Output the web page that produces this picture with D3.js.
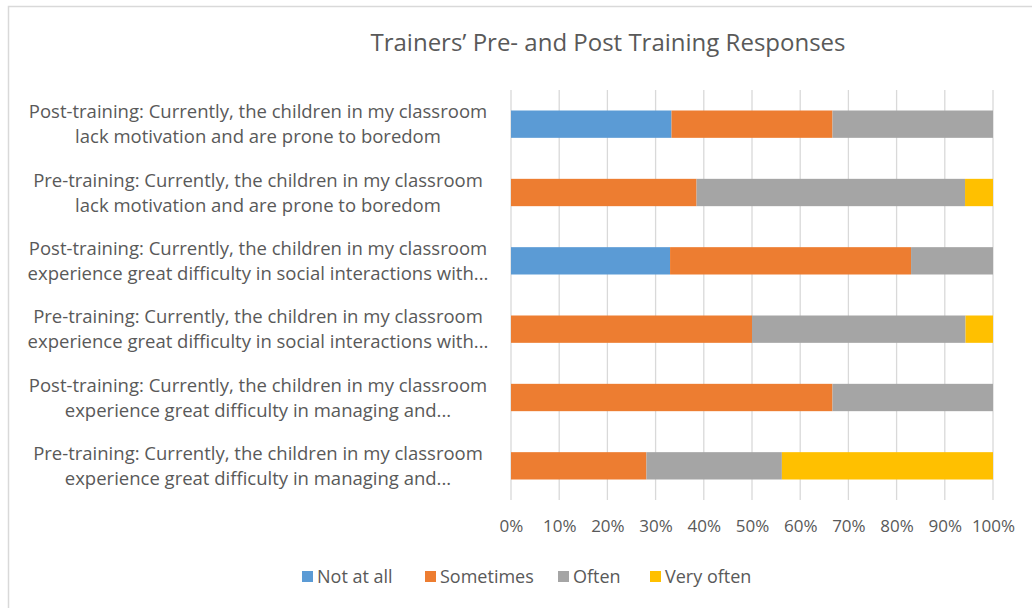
<!DOCTYPE html>
<html>
<head>
<meta charset="utf-8">
<script src="https://cdn.jsdelivr.net/npm/d3@7"></script>
<style>
  body { margin: 0; background: #fff; }
  svg { font-family: "Open Sans", sans-serif; }
</style>
</head>
<body>
<div class="chart"></div>
<script>
// categories, top to bottom, two label lines each
const categories = [
  ["Post-training: Currently, the children in my classroom", "lack motivation and are prone to boredom"],
  ["Pre-training: Currently, the children in my classroom", "lack motivation and are prone to boredom"],
  ["Post-training: Currently, the children in my classroom", "experience great difficulty in social interactions with..."],
  ["Pre-training: Currently, the children in my classroom", "experience great difficulty in social interactions with..."],
  ["Post-training: Currently, the children in my classroom", "experience great difficulty in managing and..."],
  ["Pre-training: Currently, the children in my classroom", "experience great difficulty in managing and..."]
];
const seriesNames = ["Not at all", "Sometimes", "Often", "Very often"];
const notAtAll  = [33.3, 0,    33.0, 0,    0,    0];
const sometimes = [33.4, 38.5, 50.0, 50.0, 66.7, 28.1];
const often     = [33.3, 55.7, 17.0, 44.3, 33.3, 28.1];
const veryOften = [0,    5.8,  0,    5.7,  0,    43.8];
const xTicks = [0, 10, 20, 30, 40, 50, 60, 70, 80, 90, 100];
const colors = ["#5b9bd5", "#ed7d31", "#a5a5a5", "#ffc000"];

const width = 1032, height = 608;

const svg = d3.select(".chart").append("svg")
    .attr("width", width)
    .attr("height", height);

// chart frame
svg.append("rect")
    .attr("x", 8.5).attr("y", 6.5)
    .attr("width", width).attr("height", height)
    .attr("fill", "#fff")
    .attr("stroke", "#d9d9d9")
    .attr("stroke-width", 1.5);

// title
svg.append("text")
    .attr("x", 608).attr("y", 51)
    .attr("text-anchor", "middle")
    .attr("font-size", 24)
    .attr("fill", "#595959")
    .text("Trainers\u2019 Pre- and Post Training Responses");

const rows = categories.map((c, i) => ({
  key: i,
  "Not at all": notAtAll[i],
  "Sometimes": sometimes[i],
  "Often": often[i],
  "Very often": veryOften[i]
}));

const x = d3.scaleLinear().domain([0, 100]).range([511, 993]);
const y = d3.scaleBand()
    .domain(categories.map((c, i) => i))
    .range([90, 500])
    .paddingInner(0.6)
    .paddingOuter(0.3);

// gridlines
svg.append("g")
    .selectAll("line")
    .data(xTicks)
    .join("line")
    .attr("x1", d => x(d)).attr("x2", d => x(d))
    .attr("y1", 90).attr("y2", 500)
    .attr("stroke", "#d9d9d9")
    .attr("stroke-width", 1.3);

// bars
const stacked = d3.stack().keys(seriesNames)(rows);
svg.append("g")
    .selectAll("g")
    .data(stacked)
    .join("g")
    .attr("fill", (d, i) => colors[i])
    .selectAll("rect")
    .data(d => d)
    .join("rect")
    .attr("x", d => x(d[0]))
    .attr("width", d => x(d[1]) - x(d[0]))
    .attr("y", (d, i) => y(i))
    .attr("height", y.bandwidth());

// category labels
const labels = svg.append("g")
    .selectAll("text")
    .data(categories)
    .join("text")
    .attr("text-anchor", "middle")
    .attr("font-size", 18.5)
    .attr("fill", "#595959");
labels.each(function(d, i){
  const cy = y(i) + y.bandwidth() / 2;
  d3.select(this).selectAll("tspan")
    .data(d)
    .join("tspan")
    .attr("x", 258)
    .attr("y", (t, j) => cy - 6 + j * 25)
    .text(t => t);
});

// x axis tick labels
const xAxis = svg.append("g")
    .attr("transform", "translate(0,500)")
    .call(d3.axisBottom(x).tickValues(xTicks).tickFormat(d => d + "%").tickSize(0).tickPadding(20));
xAxis.select(".domain").remove();
xAxis.selectAll("text")
    .attr("font-family", "Open Sans, sans-serif")
    .attr("font-size", 17)
    .attr("fill", "#595959");

// legend
const legendX = [302, 425, 558, 650];
const legend = svg.append("g")
    .selectAll("g")
    .data(seriesNames)
    .join("g")
    .attr("transform", (d, i) => "translate(" + legendX[i] + ",571)");
legend.append("rect")
    .attr("width", 11).attr("height", 11)
    .attr("fill", (d, i) => colors[i]);
legend.append("text")
    .attr("x", 15).attr("y", 12)
    .attr("font-size", 18)
    .attr("fill", "#595959")
    .text(d => d);
</script>
</body>
</html>
